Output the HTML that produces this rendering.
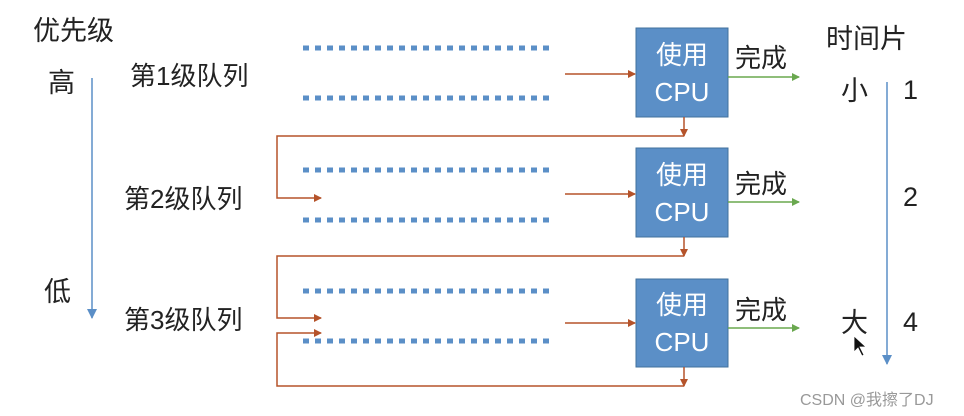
<!DOCTYPE html>
<html><head><meta charset="utf-8"><style>
html,body{margin:0;padding:0;background:#fff;}
svg{display:block;font-family:"Liberation Sans","Noto Sans CJK SC",sans-serif;}
</style></head><body>
<svg width="964" height="416" viewBox="0 0 964 416">
<defs>
<marker id="ar" markerWidth="8" markerHeight="8" refX="7" refY="4" orient="auto" markerUnits="userSpaceOnUse"><path d="M0,0 L8,4 L0,8 z" fill="#b5532a"/></marker>
<marker id="ag" markerWidth="8" markerHeight="8" refX="7" refY="4" orient="auto" markerUnits="userSpaceOnUse"><path d="M0,0 L8,4 L0,8 z" fill="#6aa84f"/></marker>
<marker id="ab" markerWidth="10" markerHeight="10" refX="9" refY="5" orient="auto" markerUnits="userSpaceOnUse"><path d="M0,0 L10,5 L0,10 z" fill="#5b8fc7"/></marker>
</defs>
<g font-size="27" fill="#222">
<text x="33" y="40">优先级</text>
<text x="48" y="92">高</text>
<text x="44" y="301">低</text>
<text x="826" y="48">时间片</text>
<text x="841" y="100">小</text>
<text x="841" y="332">大</text>
<text x="903" y="99">1</text>
<text x="903" y="206">2</text>
<text x="903" y="331">4</text>
</g>
<g font-size="26" fill="#222">
<text x="130" y="85">第1级队列</text>
<text x="124" y="208">第2级队列</text>
<text x="124" y="329">第3级队列</text>
<text x="735" y="67">完成</text>
<text x="735" y="193">完成</text>
<text x="735" y="319">完成</text>
</g>
<line x1="92" y1="78" x2="92" y2="318" stroke="#5b8fc7" stroke-width="1.5" marker-end="url(#ab)"/>
<line x1="887" y1="82" x2="887" y2="364" stroke="#5b8fc7" stroke-width="1.5" marker-end="url(#ab)"/>
<g stroke="#5b8fc7" stroke-width="5" stroke-dasharray="6,6">
<line x1="303" y1="48" x2="550" y2="48"/><line x1="303" y1="98" x2="550" y2="98"/>
<line x1="303" y1="170" x2="550" y2="170"/><line x1="303" y1="220" x2="550" y2="220"/>
<line x1="303" y1="291" x2="550" y2="291"/><line x1="303" y1="341" x2="550" y2="341"/>
</g>
<g fill="#5b8fc7" stroke="#41719c" stroke-width="1">
<rect x="636" y="28" width="92" height="89"/>
<rect x="636" y="148" width="92" height="89"/>
<rect x="636" y="279" width="92" height="88"/>
</g>
<g fill="#fff" font-size="26" text-anchor="middle">
<text x="682" y="64">使用</text><text x="682" y="101">CPU</text>
<text x="682" y="184">使用</text><text x="682" y="221">CPU</text>
<text x="682" y="314">使用</text><text x="682" y="351">CPU</text>
</g>
<g stroke="#b5532a" stroke-width="1.5" fill="none">
<line x1="565" y1="74" x2="635" y2="74" marker-end="url(#ar)"/>
<line x1="565" y1="194" x2="635" y2="194" marker-end="url(#ar)"/>
<line x1="565" y1="323" x2="635" y2="323" marker-end="url(#ar)"/>
<line x1="684" y1="117" x2="684" y2="136" marker-end="url(#ar)"/>
<polyline points="684,136 277,136 277,198 321,198" marker-end="url(#ar)"/>
<line x1="684" y1="237" x2="684" y2="256" marker-end="url(#ar)"/>
<polyline points="684,256 277,256 277,318 321,318" marker-end="url(#ar)"/>
<line x1="684" y1="367" x2="684" y2="386" marker-end="url(#ar)"/>
<polyline points="684,386 277,386 277,333 321,333" marker-end="url(#ar)"/>
</g>
<g stroke="#6aa84f" stroke-width="1.5">
<line x1="728" y1="77" x2="799" y2="77" marker-end="url(#ag)"/>
<line x1="728" y1="202" x2="799" y2="202" marker-end="url(#ag)"/>
<line x1="728" y1="328" x2="799" y2="328" marker-end="url(#ag)"/>
</g>
<path d="M854,336 L854,352 L858,348 L862,356 L864,355 L860,347 L866,347 z" fill="#111" stroke="#fff" stroke-width="0.8"/>
<text x="800" y="405" font-size="16" fill="#999">CSDN @我擦了DJ</text>
</svg>
</body></html>
